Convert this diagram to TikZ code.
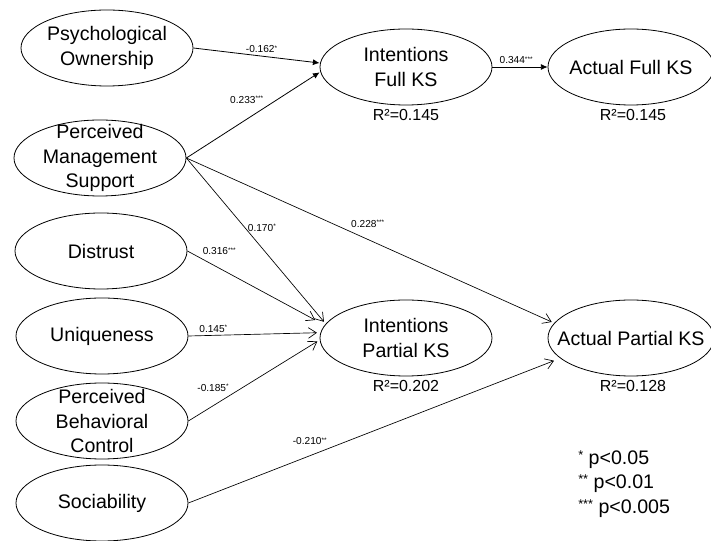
\documentclass[tikz,border=0pt]{standalone}
\usepackage{fontspec}
\setmainfont{Liberation Sans}
\usepackage{graphicx}
\usetikzlibrary{
  shapes.geometric,%
  arrows.meta,%
  positioning
}
\tikzset{>=latex}
\tikzset{
  latent/.style={draw, ellipse, inner sep=0pt, line width=0.6pt,
    minimum width=129pt, minimum height=57pt},
  actual/.style={latent, minimum width=124.5pt},
  nodetext/.style={align=center, inner sep=0pt,
    font=\fontsize{14.7}{18.3}\selectfont},
  rsq/.style={inner sep=2pt, font=\fontsize{12}{14}\selectfont},
  coef/.style={inner sep=2pt, font=\fontsize{7.6}{9}\selectfont},
  fullpath/.style={-{Latex[length=5pt, width=4.5pt]}, line width=0.6pt},
  partpath/.style={-{Straight Barb[length=6pt, width=8pt]}, line width=0.5pt,
    shorten >=2pt},
}
\newcommand{\sig}[1]{\raisebox{0.25em}{\scalebox{0.65}{#1}}}

\begin{document}
\begin{tikzpicture}[x=0.75pt, y=-0.75pt]
  \useasboundingbox (0,0) rectangle (711,541);
  % constructs on the left
  \node[latent, label={[nodetext]center:{Psychological\\Ownership}}] (po) at (107,48) {};
  \node[latent, label={[nodetext]center:{Perceived\\Management\\Support}}] (pms) at (100,158) {};
  \node[latent, label={[nodetext]center:Distrust}] (dis) at (101,251) {};
  \node[latent, label={[nodetext]center:Uniqueness}] (uni) at (102,336) {};
  \node[latent, label={[nodetext]center:{Perceived\\Behavioral\\Control}}] (pbc) at (102,421) {};
  \node[latent, label={[nodetext]center:Sociability}] (soc) at (102,503) {};
  % intentions and behaviour
  \node[latent, label={[nodetext]center:{Intentions\\Full KS}}] (ifk) at (406,67) {};
  \node[actual, label={[nodetext]center:Actual Full KS}] (afk) at (631,67) {};
  \node[latent, label={[nodetext]center:{Intentions\\Partial KS}}] (ipk) at (406,338) {};
  \node[actual, label={[nodetext]center:Actual Partial KS}] (apk) at (631,338) {};
  \node[rsq, below=1pt of ifk] (ifkr) {R²=0.145};
  \node[rsq, below=1pt of afk, xshift=1.5pt] (afkr) {R²=0.145};
  \node[rsq, below=1pt of ipk] (ipkr) {R²=0.202};
  \node[rsq, below=1pt of apk, xshift=1.5pt] (apkr) {R²=0.128};
  % paths to full KS
  \draw[fullpath] (po.east) -- node[coef, pos=0.54, above] (cpo) {-0.162\sig{*}} ([yshift=3pt]ifk.west);
  \draw[fullpath] (pms.east) -- node[coef, pos=0.6, above left] (cpmsf) {0.233\sig{***}} ([yshift=-4pt]ifk.west);
  \draw[fullpath] (ifk.east) -- node[coef, pos=0.43, above] (cifk) {0.344\sig{***}} (afk.west);
  % paths to partial KS
  \draw[partpath] (pms.east) -- node[coef, pos=0.42, right] (cpmsp) {0.170\sig{*}} (ipk.170);
  \draw[partpath] (pms.east) -- node[coef, pos=0.44, above right] (cpmsa) {0.228\sig{***}} (apk.169);
  \draw[partpath, shorten >=8pt] (dis.east) -- node[coef, pos=0.09, above right] (cdis) {0.316\sig{***}} (ipk.171);
  \draw[partpath] (uni.east) -- node[coef, pos=0.19, above] (cuni) {0.145\sig{*}} ([yshift=4pt]ipk.west);
  \draw[partpath] (pbc.east) -- node[coef, pos=0.33, above left] (cpbc) {-0.185\sig{*}} ([yshift=-1.5pt]ipk.west);
  \draw[partpath, shorten >=5pt] (soc.east) -- node[coef, pos=0.38, above left] (csoc) {-0.210\sig{**}} (apk.196);
  % significance levels
  \node[nodetext, align=left, anchor=west] (legend) at (578,484)
    {\sig{*} p<0.05\\\sig{**} p<0.01\\\sig{***} p<0.005};
\end{tikzpicture}
\end{document}
